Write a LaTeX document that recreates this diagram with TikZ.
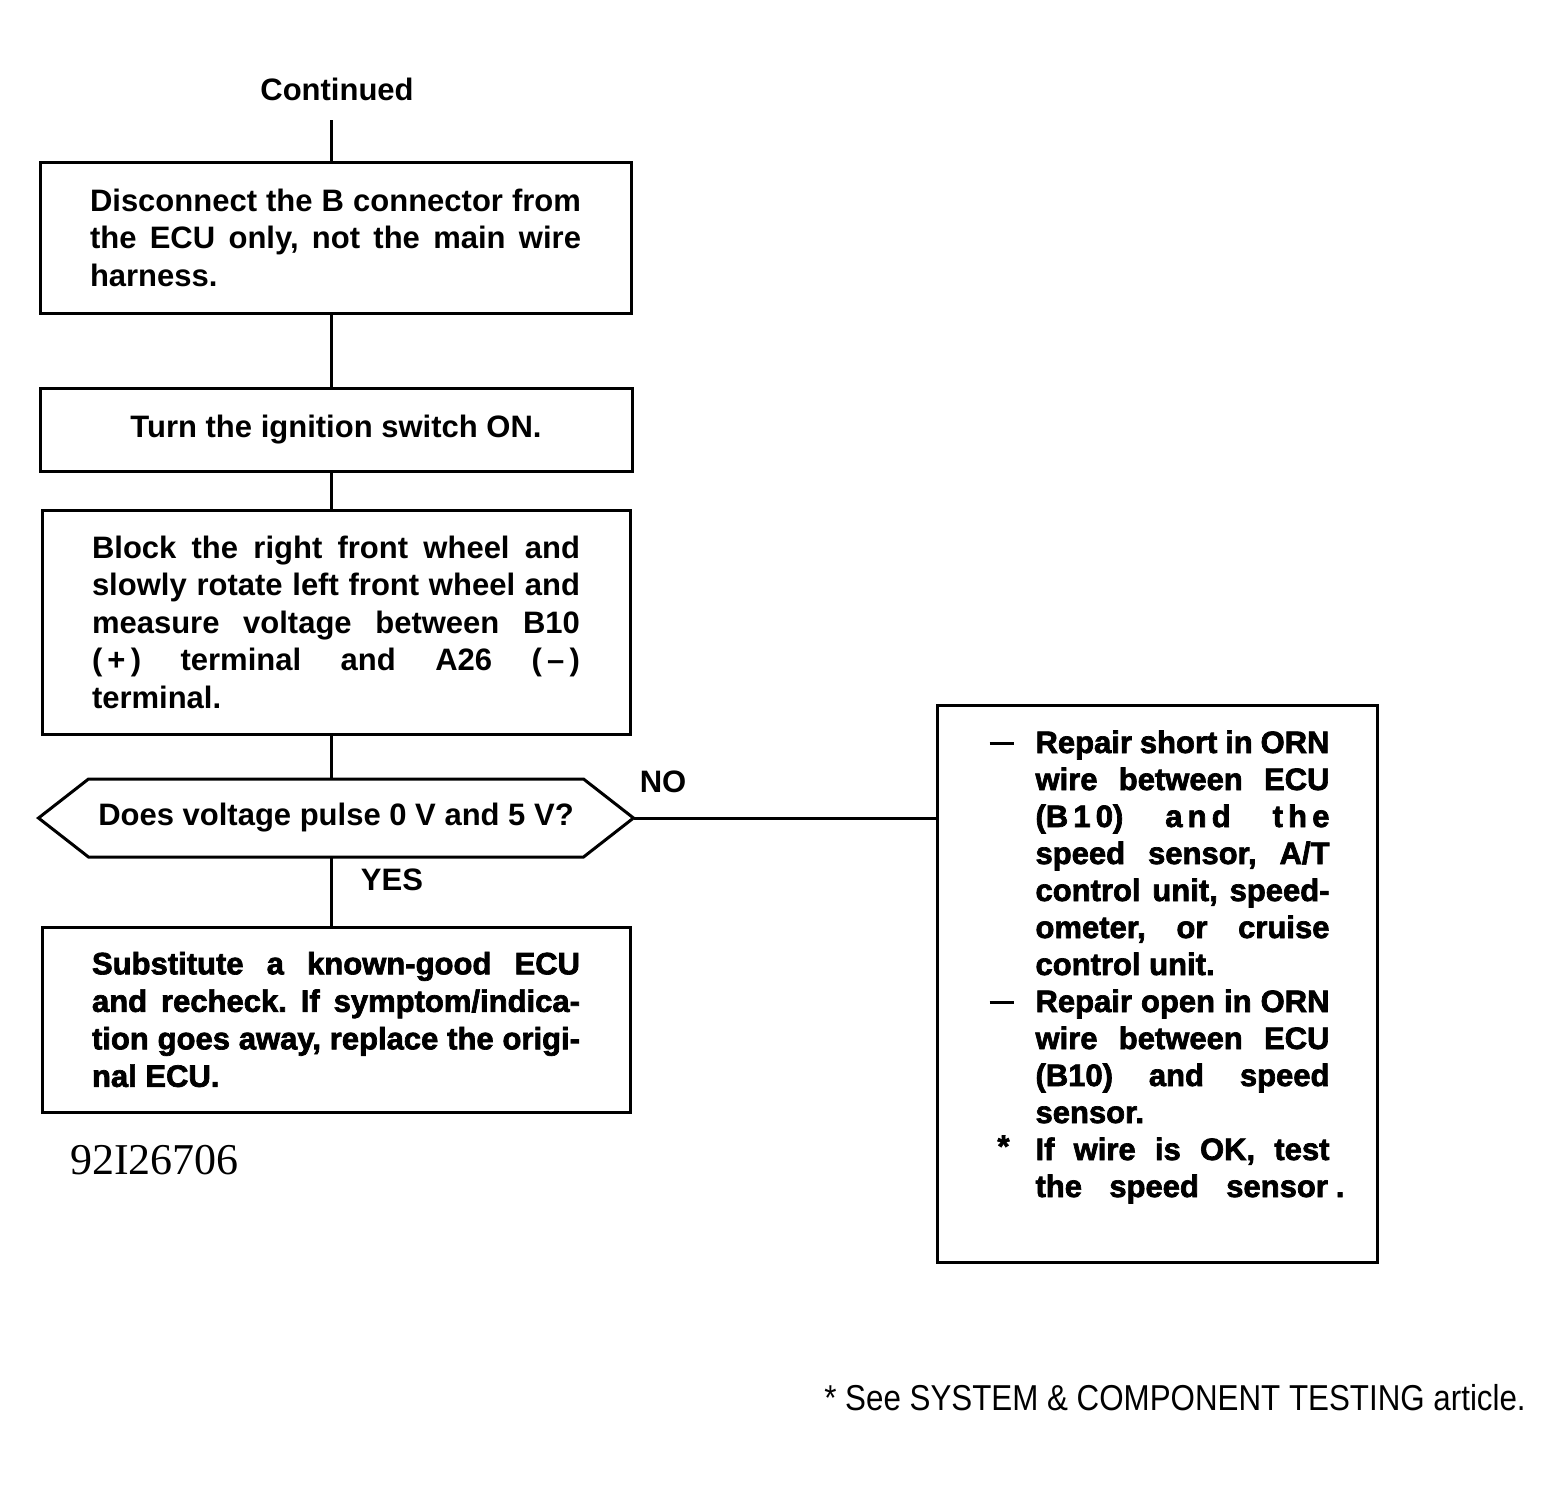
\documentclass[tikz,border=0pt]{standalone}
\usepackage{fontspec}
\setmainfont{Liberation Sans}
\newfontfamily\heavyfont[FakeBold=2.2]{Liberation Sans Bold}
\newfontfamily\narrowfont[FakeStretch=0.87]{Liberation Sans}
\newfontfamily\numfont{Liberation Serif}
\frenchspacing
\newcommand\jline[2]{\makebox[#1][s]{#2}\par}
\newcommand\dashmark{\llap{\rule[0.25em]{12pt}{1.8pt}\hspace{11pt}}}
\newcommand\starmark{\llap{\raisebox{0.1em}{*}\hspace{13pt}}}
\begin{document}
\begin{tikzpicture}[x=0.5pt,y=-0.5pt,line width=1.5pt,
  box/.style={draw,line width=1.5pt,inner sep=0pt},
  txt/.style={font=\fontsize{15.5}{18.75}\selectfont\bfseries,inner sep=0pt},
  heavy/.style={font={\heavyfont\fontsize{15.5}{18.75}\selectfont},inner sep=0pt},
  rheavy/.style={font={\heavyfont\fontsize{15.5}{18.5}\selectfont},inner sep=0pt},
  conn/.style={line width=1.5pt}]
\useasboundingbox (0,0) rectangle (1561,1500);

\node[txt] (cont) at (337,89) {Continued};
\coordinate (spine) at (331,120);

\node[box,txt,minimum width=295.5pt,minimum height=75.5pt] (b1) at (335.5,237.5)
 {\parbox{245.5pt}{\jline{245.5pt}{Disconnect the B connector from}\jline{245.5pt}{the ECU only, not the main wire}harness.}};

\node[box,txt,minimum width=296pt,minimum height=41.5pt] (b2) at (336,429.5)
 {Turn the ignition switch ON.};

\node[box,txt,minimum width=294pt,minimum height=112pt] (b3) at (336,622)
 {\parbox{244pt}{\jline{244pt}{Block the right front wheel and}\jline{244pt}{slowly rotate left front wheel and}\jline{244pt}{measure voltage between B10}\jline{244pt}{(\,+\,) terminal and A26 (\,–\,)}terminal.}};

\node[txt,minimum width=296pt,minimum height=37.5pt] (q) at (336,818)
 {Does voltage pulse 0 V and 5 V?};
\draw[conn] ([xshift=25pt]q.north west) -- ([xshift=-25pt]q.north east) -- (q.east)
  -- ([xshift=-25pt]q.south east) -- ([xshift=25pt]q.south west) -- (q.west) -- cycle;

\node[box,heavy,minimum width=294pt,minimum height=92.5pt] (b5) at (336,1019.5)
 {\parbox{244pt}{\jline{244pt}{Substitute a known-good ECU}\jline{244pt}{and recheck. If symptom/indica-}\jline{244pt}{tion goes away, replace the origi-}nal ECU.}};

\node[box,minimum width=220pt,minimum height=278.5pt] (rb) at (1157,983.5) {};
\node[rheavy,anchor=base west] (rbt) at (1034,753)
 {\parbox[t]{147pt}{%
 \jline{147pt}{\dashmark Repair short in ORN}%
 \jline{147pt}{wire between ECU}%
 \jline{147pt}{(B\,1\,0) a\,n\,d t\,h\,e}%
 \jline{147pt}{speed sensor, A/T}%
 \jline{147pt}{control unit, speed-}%
 \jline{147pt}{ometer, or cruise}%
 control unit.\par
 \jline{147pt}{\dashmark Repair open in ORN}%
 \jline{147pt}{wire between ECU}%
 \jline{147pt}{(B10) and speed}%
 sensor.\par
 \jline{147pt}{\starmark If wire is OK, test}%
 \jline{154.5pt}{the speed sensor\kern4pt.}}};

\node[txt] (no) at (663,782) {NO};
\node[txt] (yes) at (392,880) {YES};

\node[font={\numfont\fontsize{22}{24}\selectfont},inner sep=0pt] (id) at (154.5,1160) {92I26706};
\node[font={\narrowfont\fontsize{18}{20}\selectfont},inner sep=0pt] (foot) at (1175,1398)
 {* See SYSTEM \& COMPONENT TESTING article.};

\draw[conn] (spine) -- (spine |- b1.north);
\draw[conn] (b1.south -| spine) -- (b2.north -| spine);
\draw[conn] (b2.south -| spine) -- (b3.north -| spine);
\draw[conn] (b3.south -| spine) -- (q.north -| spine);
\draw[conn] (q.south -| spine) -- (b5.north -| spine);
\draw[conn] (q.east) -- (q.east -| rb.west);
\end{tikzpicture}
\end{document}
